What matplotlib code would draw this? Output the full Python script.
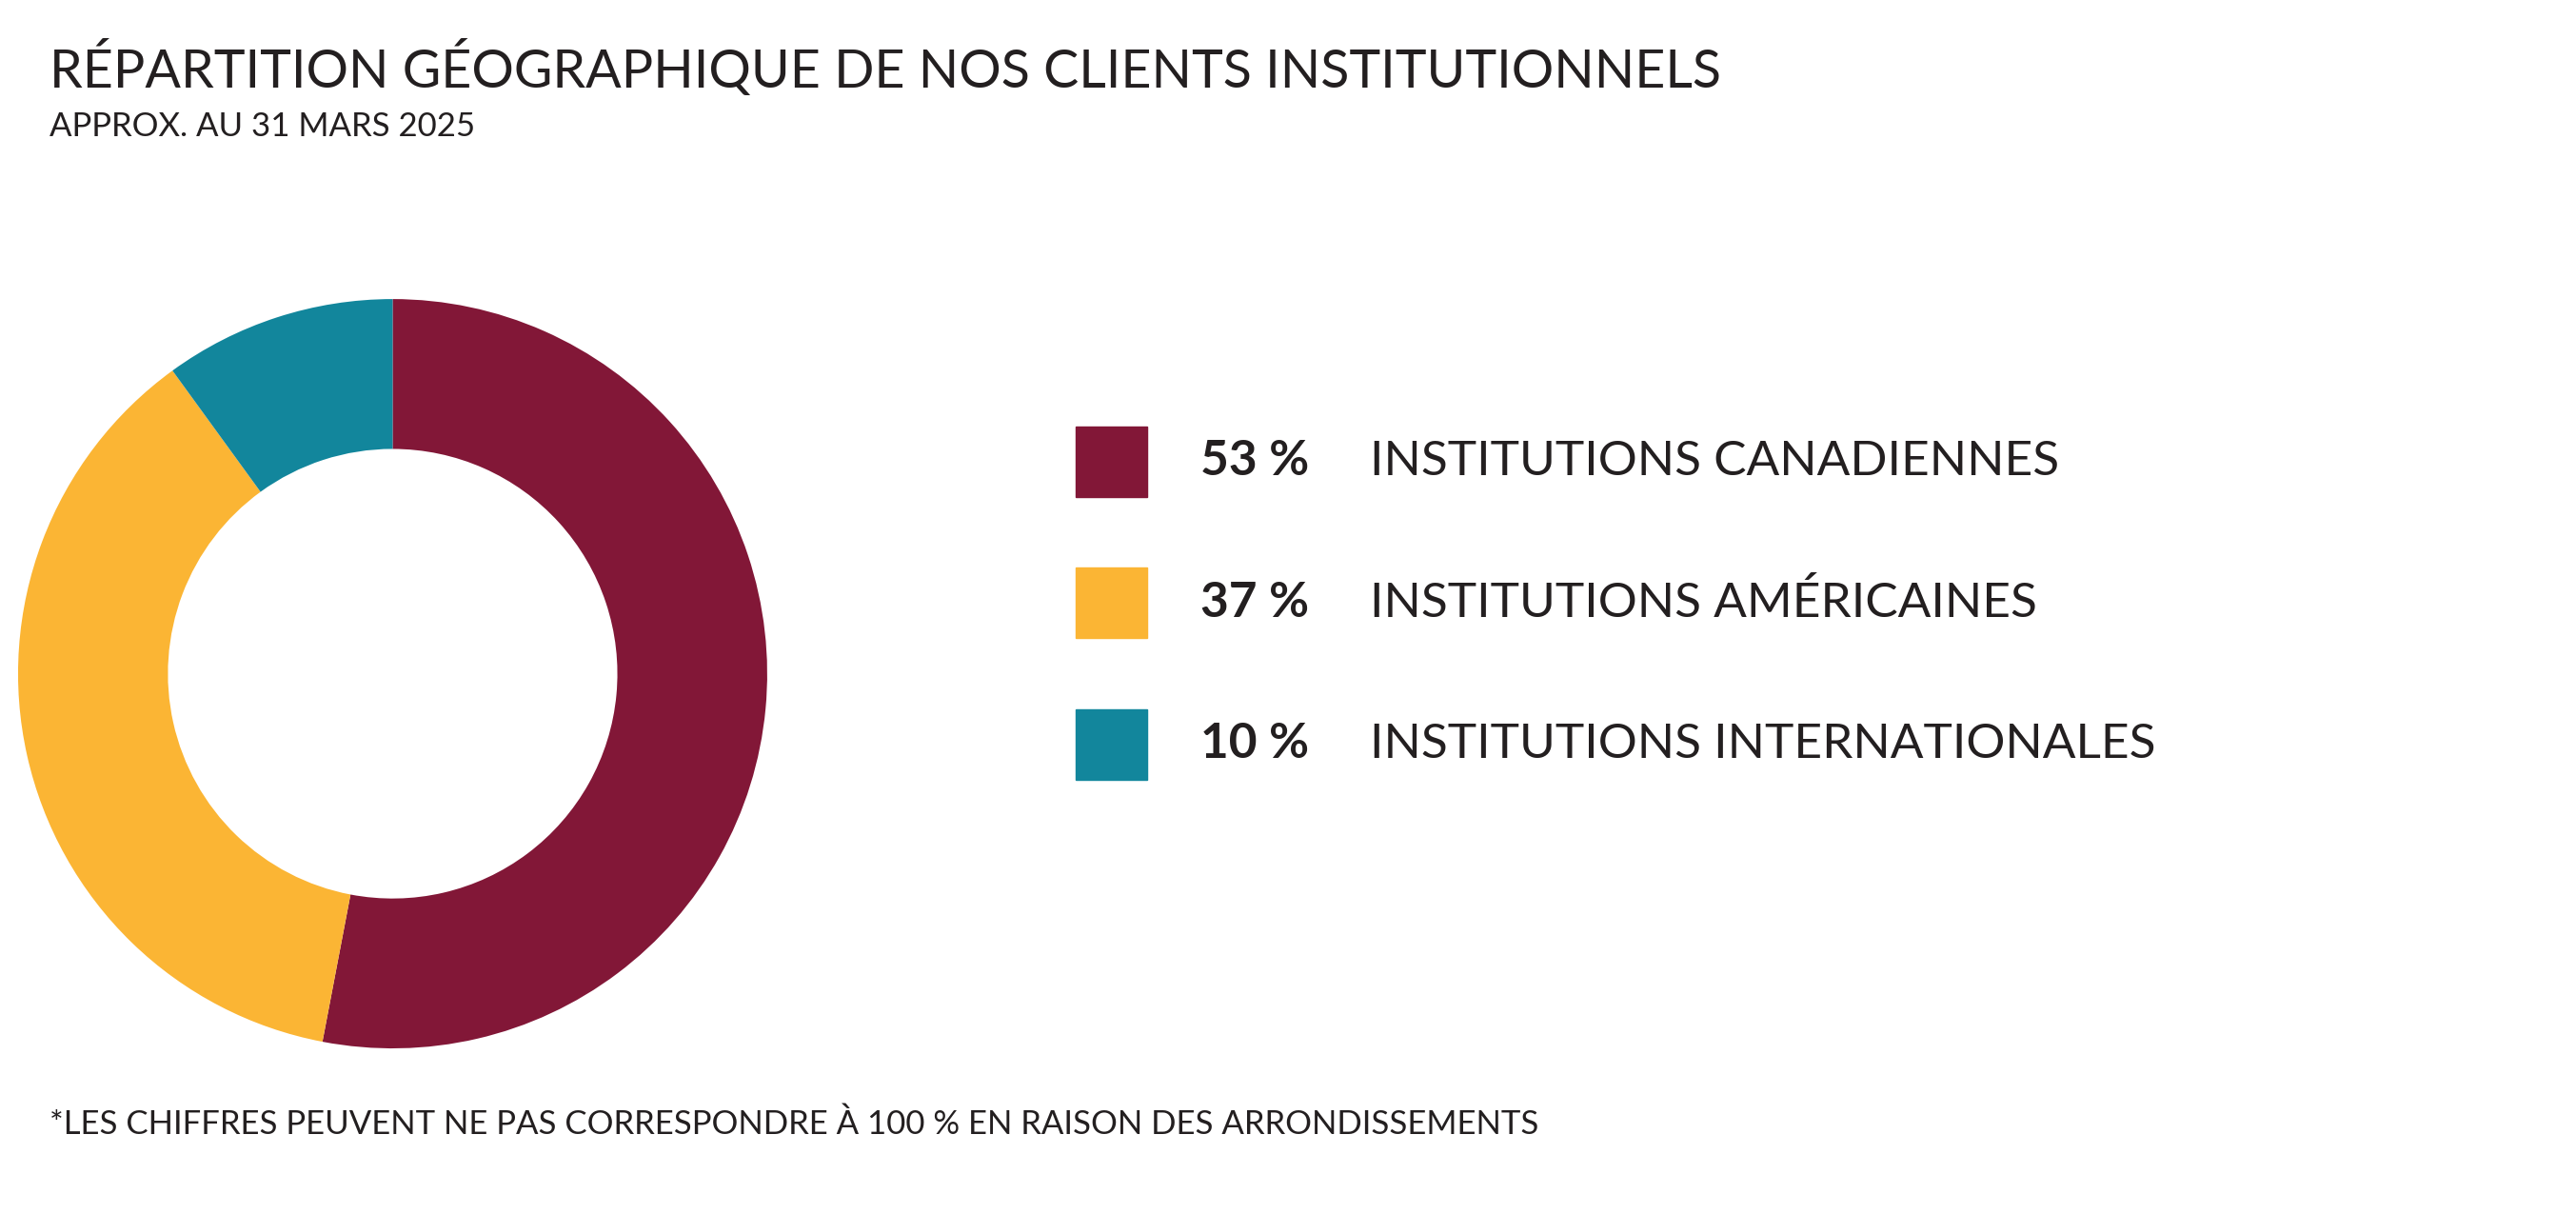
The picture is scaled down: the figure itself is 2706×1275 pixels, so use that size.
import matplotlib
matplotlib.use("Agg")
import matplotlib.pyplot as plt
from matplotlib.patches import Rectangle

categories = ["INSTITUTIONS CANADIENNES", "INSTITUTIONS AMÉRICAINES", "INSTITUTIONS INTERNATIONALES"]
values = [53, 37, 10]
value_labels = ["53 %", "37 %", "10 %"]
colors = ["#821737", "#FBB534", "#12869C"]

W, H = 2706, 1275
S = 2706 / 1568
plt.rcParams['font.family'] = ['Lato', 'DejaVu Sans']
fig = plt.figure(figsize=(W/100, H/100), dpi=100)
fig.patch.set_facecolor("white")

def fx(x): return x * S / W
def fy(y): return 1 - y * S / H

cx, cy, r = 239, 410, 228
w = 2 * r * S / W
h = 2 * r * S / H
ax = fig.add_axes([fx(cx) - w/2, fy(cy) - h/2, w, h])
ax.pie(values, colors=colors, startangle=90, counterclock=False,
       wedgeprops=dict(width=0.40, linewidth=0))
ax.set_xlim(-1, 1); ax.set_ylim(-1, 1)
ax.axis("off")

txt = "#231f20"
fig.text(fx(30), fy(42), "RÉPARTITION GÉOGRAPHIQUE DE NOS CLIENTS INSTITUTIONNELS",
         fontsize=40, color=txt, va="center", ha="left")
fig.text(fx(30), fy(77), "APPROX. AU 31 MARS 2025", fontsize=25, color=txt, va="center", ha="left")
fig.text(fx(30), fy(684), "*LES CHIFFRES PEUVENT NE PAS CORRESPONDRE À 100 % EN RAISON DES ARRONDISSEMENTS",
         fontsize=25, color=txt, va="center", ha="left")

ys = [281, 367, 453]
for y, c, lab, vl in zip(ys, colors, categories, value_labels):
    sw = 43 * S
    fig.patches.append(Rectangle((fx(655), fy(y) - sw/2/H), sw/W, sw/H,
                                 transform=fig.transFigure, color=c, figure=fig))
    fig.text(fx(797), fy(y), vl, fontsize=37, fontweight="bold", color=txt, ha="right", va="center")
    fig.text(fx(834), fy(y), lab, fontsize=37, color=txt, ha="left", va="center")

fig.savefig("out.png", dpi=100, facecolor="white")
